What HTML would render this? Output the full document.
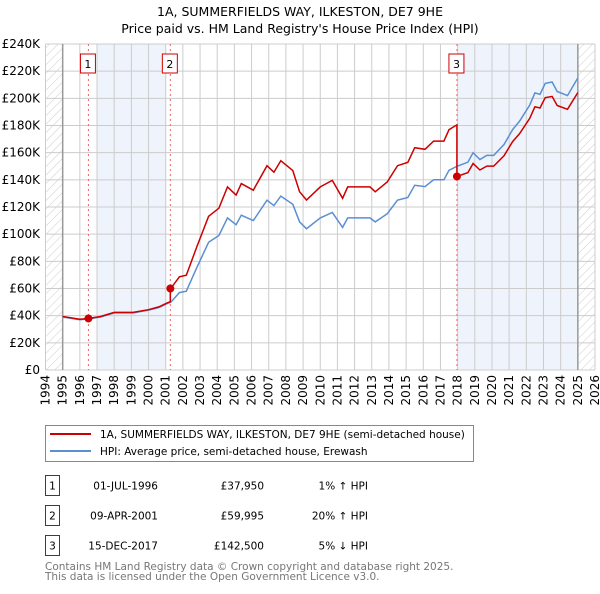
<!DOCTYPE html>
<html><head><meta charset="utf-8"><style>
body{margin:0;background:#fff;width:600px;height:590px;overflow:hidden;font-family:"DejaVu Sans","Liberation Sans",sans-serif}
svg text{font-family:"DejaVu Sans","Liberation Sans",sans-serif}
</style></head><body>
<svg id="c" width="600" height="590"></svg>
<script>
const years=[1995,1996,1996.5,1997.2,1998,1999.1,2000,2000.6,2001.1,2001.3,2001.8,2002.2,2002.8,2003.5,2004.1,2004.6,2005.1,2005.4,2006.1,2006.9,2007.3,2007.7,2008.4,2008.8,2009.2,2010,2010.7,2011.3,2011.6,2012.9,2013.2,2013.9,2014.5,2015.1,2015.5,2016.1,2016.6,2017.2,2017.5,2017.96,2018.6,2018.9,2019.3,2019.7,2020.1,2020.7,2021.2,2021.6,2022.2,2022.5,2022.8,2023.1,2023.5,2023.8,2024.4,2025.0];
const hpi=[39,37,37.6,39,42,42,44,46,49,50,57,58,75,94,99,112,107,114,110,125,121,128,122,109,104,112,116,105,112,112,109,115,125,127,136,135,140,140,147,150,153,160,155,158,158,166,177,183,195,204,203,211,212,205,202,215];
const saleYears=[1996.5,2001.27,2017.96];
const salePrices=[37.95,59.995,142.5];
const saleLabels=["1","2","3"];
const yTicks=[0,20,40,60,80,100,120,140,160,180,200,220,240];
const xTicks=[1994,1995,1996,1997,1998,1999,2000,2001,2002,2003,2004,2005,2006,2007,2008,2009,2010,2011,2012,2013,2014,2015,2016,2017,2018,2019,2020,2021,2022,2023,2024,2025,2026];
const NS="http://www.w3.org/2000/svg";
const svg=document.getElementById('c');
const L=45.5,R=595,T=44,B=370;
const X=y=>L+(y-1994)*(R-L)/32;
const Y=v=>B-v*(B-T)/240;
function el(t,a,p){const e=document.createElementNS(NS,t);for(const k in a)e.setAttribute(k,a[k]);(p||svg).appendChild(e);return e;}
function hpiAt(t){if(t<=years[0])return hpi[0];for(let i=1;i<years.length;i++)if(t<=years[i]){const f=(t-years[i-1])/(years[i]-years[i-1]);return hpi[i-1]+f*(hpi[i]-hpi[i-1]);}return hpi[hpi.length-1];}
let t=el('text',{x:300,y:16,'text-anchor':'middle','font-size':12.5});t.textContent="1A, SUMMERFIELDS WAY, ILKESTON, DE7 9HE";

t=el('text',{x:300,y:33,'text-anchor':'middle','font-size':12.5});t.textContent="Price paid vs. HM Land Registry's House Price Index (HPI)";

const defs=el('defs',{});const pat=el('pattern',{id:'h',width:6,height:6,patternUnits:'userSpaceOnUse',patternTransform:'rotate(45)'},defs);
el('line',{x1:0,y1:0,x2:0,y2:6,stroke:'#ccc','stroke-width':1},pat);
let r=el('rect',{x:L,y:T,width:X(1995)-L,height:B-T,fill:'url(#h)'});
r=el('rect',{x:X(2025),y:T,width:R-X(2025),height:B-T,fill:'url(#h)'});
r=el('rect',{x:X(1997),y:T,width:X(2001)-X(1997),height:B-T,fill:'#eef3fc'});
r=el('rect',{x:X(2018),y:T,width:X(2025)-X(2018),height:B-T,fill:'#eef3fc'});
yTicks.forEach(v=>{const l=el('line',{x1:L,x2:R,y1:Y(v),y2:Y(v),stroke:'#ccc'});
 const tx=el('text',{x:40,y:Y(v)+4,'text-anchor':'end','font-size':12});tx.textContent=v===0?'£0':'£'+v+'K';});
xTicks.forEach(v=>{const l=el('line',{x1:X(v),x2:X(v),y1:T,y2:B,stroke:'#ccc'});
 const tx=el('text',{x:0,y:0,'text-anchor':'end','font-size':12,transform:`translate(${X(v)+4},375) rotate(-90)`});tx.textContent=v;});
[1995,2025].forEach(v=>{const l=el('line',{x1:X(v),x2:X(v),y1:T,y2:B,stroke:'#999','stroke-width':1.5});});
saleYears.forEach((s,i)=>{const l=el('line',{x1:X(s),x2:X(s),y1:T,y2:B,stroke:'#e66','stroke-dasharray':'2,3'});
 const g=el('rect',{x:X(s)-8,y:54,width:15,height:19,fill:'#fff',stroke:'#c00'});
 const tx=el('text',{x:X(s)-0.5,y:68,'text-anchor':'middle','font-size':11});tx.textContent=saleLabels[i];});
let d=years.map((y,i)=>(i?'L':'M')+X(y).toFixed(1)+','+Y(hpi[i]).toFixed(1)).join('');
let p=el('path',{d,fill:'none',stroke:'#5b8fd4','stroke-width':1.5});
let pts=[];
years.forEach((y,i)=>{let k=0;for(let j=0;j<saleYears.length;j++)if(y>=saleYears[j])k=j;
 pts.push([y,salePrices[k]*hpi[i]/hpiAt(saleYears[k])]);});
saleYears.forEach((s,j)=>{if(j>0)pts.push([s-0.0001,salePrices[j-1]*hpiAt(s)/hpiAt(saleYears[j-1])]);pts.push([s,salePrices[j]]);});
pts.sort((a,b)=>a[0]-b[0]);
d=pts.map((q,i)=>(i?'L':'M')+X(q[0]).toFixed(1)+','+Y(q[1]).toFixed(1)).join('');
p=el('path',{d,fill:'none',stroke:'#cc0000','stroke-width':1.5});
saleYears.forEach((s,i)=>{const c=el('circle',{cx:X(s),cy:Y(salePrices[i]),r:4,fill:'#cc0000'});});
const lg=el('g',{});
el('rect',{x:45.5,y:425.5,width:428,height:36,fill:'#fff',stroke:'#888'},lg);
el('line',{x1:50,x2:91,y1:434,y2:434,stroke:'#cc0000','stroke-width':2},lg);
el('line',{x1:50,x2:91,y1:451,y2:451,stroke:'#5b8fd4','stroke-width':2},lg);
t=el('text',{x:100,y:438,'font-size':10.5},lg);t.textContent="1A, SUMMERFIELDS WAY, ILKESTON, DE7 9HE (semi-detached house)";
t=el('text',{x:100,y:455,'font-size':10.5},lg);t.textContent="HPI: Average price, semi-detached house, Erewash";
const dates=["01-JUL-1996","09-APR-2001","15-DEC-2017"],prices=["£37,950","£59,995","£142,500"],rel=["1% ↑ HPI","20% ↑ HPI","5% ↓ HPI"];
[0,1,2].forEach(i=>{const y0=475.5+i*30;
 let b=el('rect',{x:45.5,y:y0,width:14,height:20,fill:'#fff',stroke:'#c00'});
 let a=el('text',{x:52.5,y:y0+14,'text-anchor':'middle','font-size':10.5});a.textContent=saleLabels[i];
 a=el('text',{x:158,y:y0+14,'text-anchor':'end','font-size':10.5});a.textContent=dates[i];
 a=el('text',{x:264,y:y0+14,'text-anchor':'end','font-size':10.5});a.textContent=prices[i];
 a=el('text',{x:368,y:y0+14,'text-anchor':'end','font-size':10.5});a.textContent=rel[i];});
t=el('text',{x:45,y:570,'font-size':10.5,fill:'#777'});t.textContent="Contains HM Land Registry data © Crown copyright and database right 2025.";
t=el('text',{x:45,y:580,'font-size':10.5,fill:'#777'});t.textContent="This data is licensed under the Open Government Licence v3.0.";
</script>
</body></html>
